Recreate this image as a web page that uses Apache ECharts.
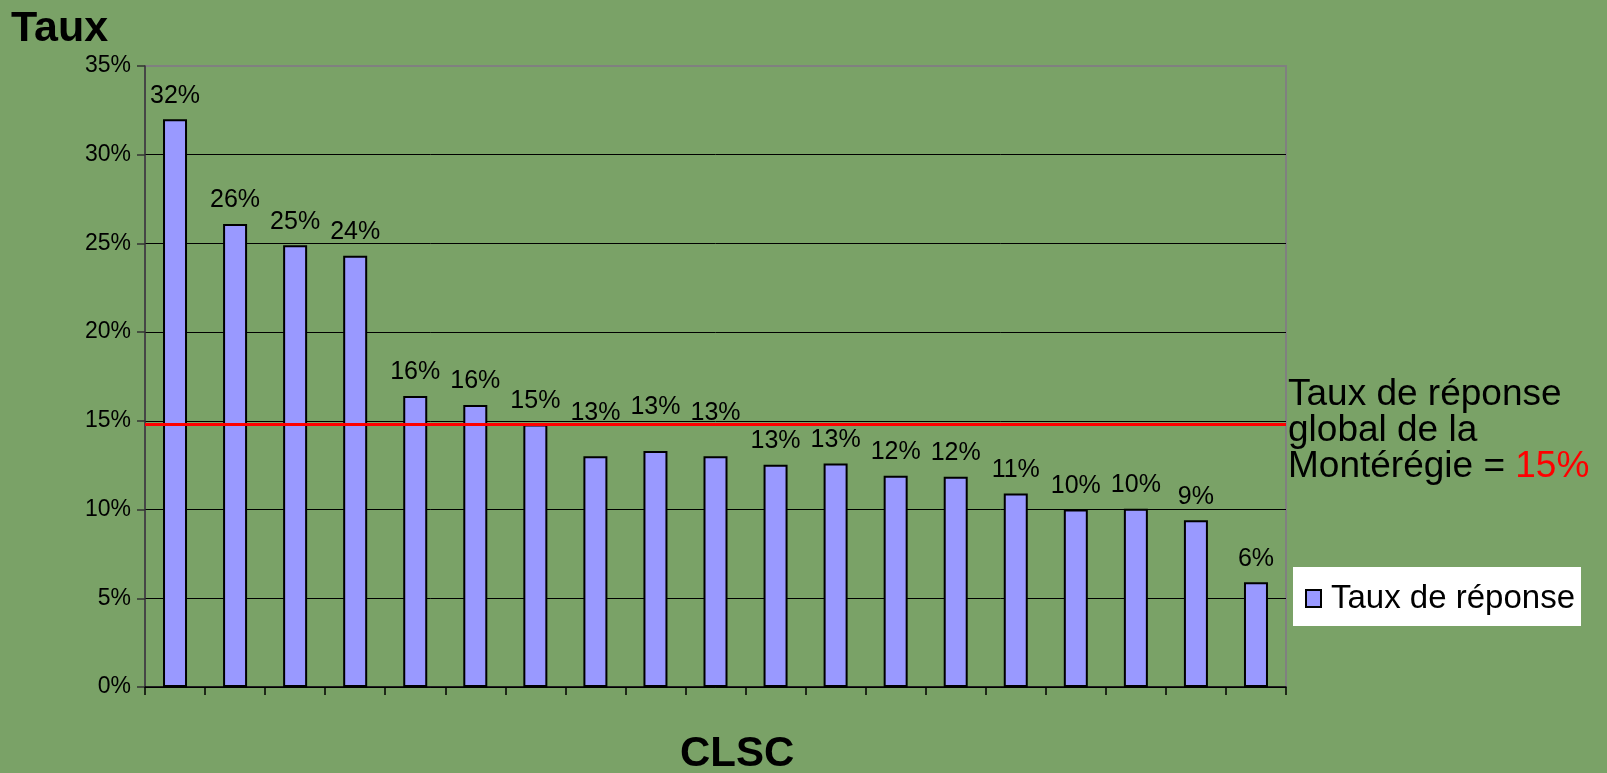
<!DOCTYPE html>
<html>
<head>
<meta charset="utf-8">
<script src="https://cdn.jsdelivr.net/npm/echarts@6/dist/echarts.min.js"></script>
<style>
html,body{margin:0;padding:0;background:#7AA267;}
#c{width:1607px;height:773px;}
</style>
</head>
<body>
<div id="c"></div>
<script>
const categories = ['CLSC 1','CLSC 2','CLSC 3','CLSC 4','CLSC 5','CLSC 6','CLSC 7','CLSC 8','CLSC 9','CLSC 10','CLSC 11','CLSC 12','CLSC 13','CLSC 14','CLSC 15','CLSC 16','CLSC 17','CLSC 18','CLSC 19'];
const tauxReponse = [32.0, 26.1, 24.9, 24.3, 16.4, 15.9, 14.8, 13.0, 13.3, 13.0, 12.53, 12.6, 11.9, 11.85, 10.9, 10.0, 10.05, 9.4, 5.9];
const tauxGlobal = 14.8;
const yTicks = [0, 5, 10, 15, 20, 25, 30, 35];
const seriesName = 'Taux de réponse';
const FONT = '"Liberation Sans", Arial, sans-serif';

const raised = [7, 8, 9];
const barData = tauxReponse.map((v, i) => raised.includes(i)
  ? { value: v, label: { distance: 31 } }
  : v);

const chart = echarts.init(document.getElementById('c'), null, { renderer: 'canvas' });
chart.setOption({
  backgroundColor: '#7AA267',
  animation: false,
  textStyle: { fontFamily: FONT },
  grid: { left: 145, right: 321, top: 66, bottom: 86, show: true, borderColor: '#808080', borderWidth: 2, containLabel: false },
  legend: {
    left: 1293, top: 567,
    backgroundColor: '#ffffff',
    padding: [15, 6, 11, 12],
    itemWidth: 15, itemHeight: 17, itemGap: 10,
    icon: 'rect',
    itemStyle: { color: '#9999FF', borderColor: '#000', borderWidth: 2 },
    textStyle: { fontSize: 33, color: '#000', fontFamily: FONT, padding: [0, 0, 0, 5] },
    data: [seriesName]
  },
  xAxis: {
    type: 'category',
    data: categories,
    boundaryGap: true,
    axisLine: { show: true, lineStyle: { color: '#000', width: 1.5 } },
    axisTick: { show: true, length: 8, interval: 0, lineStyle: { color: '#000', width: 1.5 } },
    axisLabel: { show: false },
    splitLine: { show: false }
  },
  yAxis: {
    type: 'value',
    min: yTicks[0], max: yTicks[yTicks.length - 1], interval: 5,
    axisLine: { show: true, lineStyle: { color: '#333', width: 1.5 } },
    axisTick: { show: true, length: 8, lineStyle: { color: '#333', width: 1.5 } },
    axisLabel: { formatter: '{value}%', fontSize: 23, color: '#000', margin: 14, fontFamily: FONT },
    splitLine: { show: true, lineStyle: { color: ['#000','#000','#000','#000','#000','#000','#000','#808080'], width: 1 } }
  },
  series: [{
    name: seriesName,
    type: 'bar',
    data: barData,
    barWidth: 24,
    itemStyle: { color: '#9999FF', borderColor: '#000', borderWidth: 2 },
    label: {
      show: true, position: 'top', distance: 11,
      fontSize: 25, color: '#000', fontFamily: FONT,
      formatter: p => Math.round(p.value) + '%'
    },
    markLine: {
      silent: true,
      symbol: 'none',
      label: { show: false },
      lineStyle: { color: '#FF0000', width: 3, type: 'solid' },
      data: [{ yAxis: tauxGlobal }]
    },
    z: 2
  }],
  graphic: [
    { type: 'text', left: 11, top: 8, style: { text: 'Taux', font: 'bold 43px ' + FONT, fill: '#000' } },
    { type: 'text', left: 680, top: 733, style: { text: 'CLSC', font: 'bold 42px ' + FONT, fill: '#000' } },
    { type: 'text', left: 1288, top: 376, style: {
        text: 'Taux de réponse\nglobal de la\nMontérégie = {r|15%}',
        font: '37px ' + FONT, fill: '#000', lineHeight: 36,
        rich: { r: { fill: '#FF0000', font: '37px ' + FONT } }
      } }
  ]
});
</script>
</body>
</html>
